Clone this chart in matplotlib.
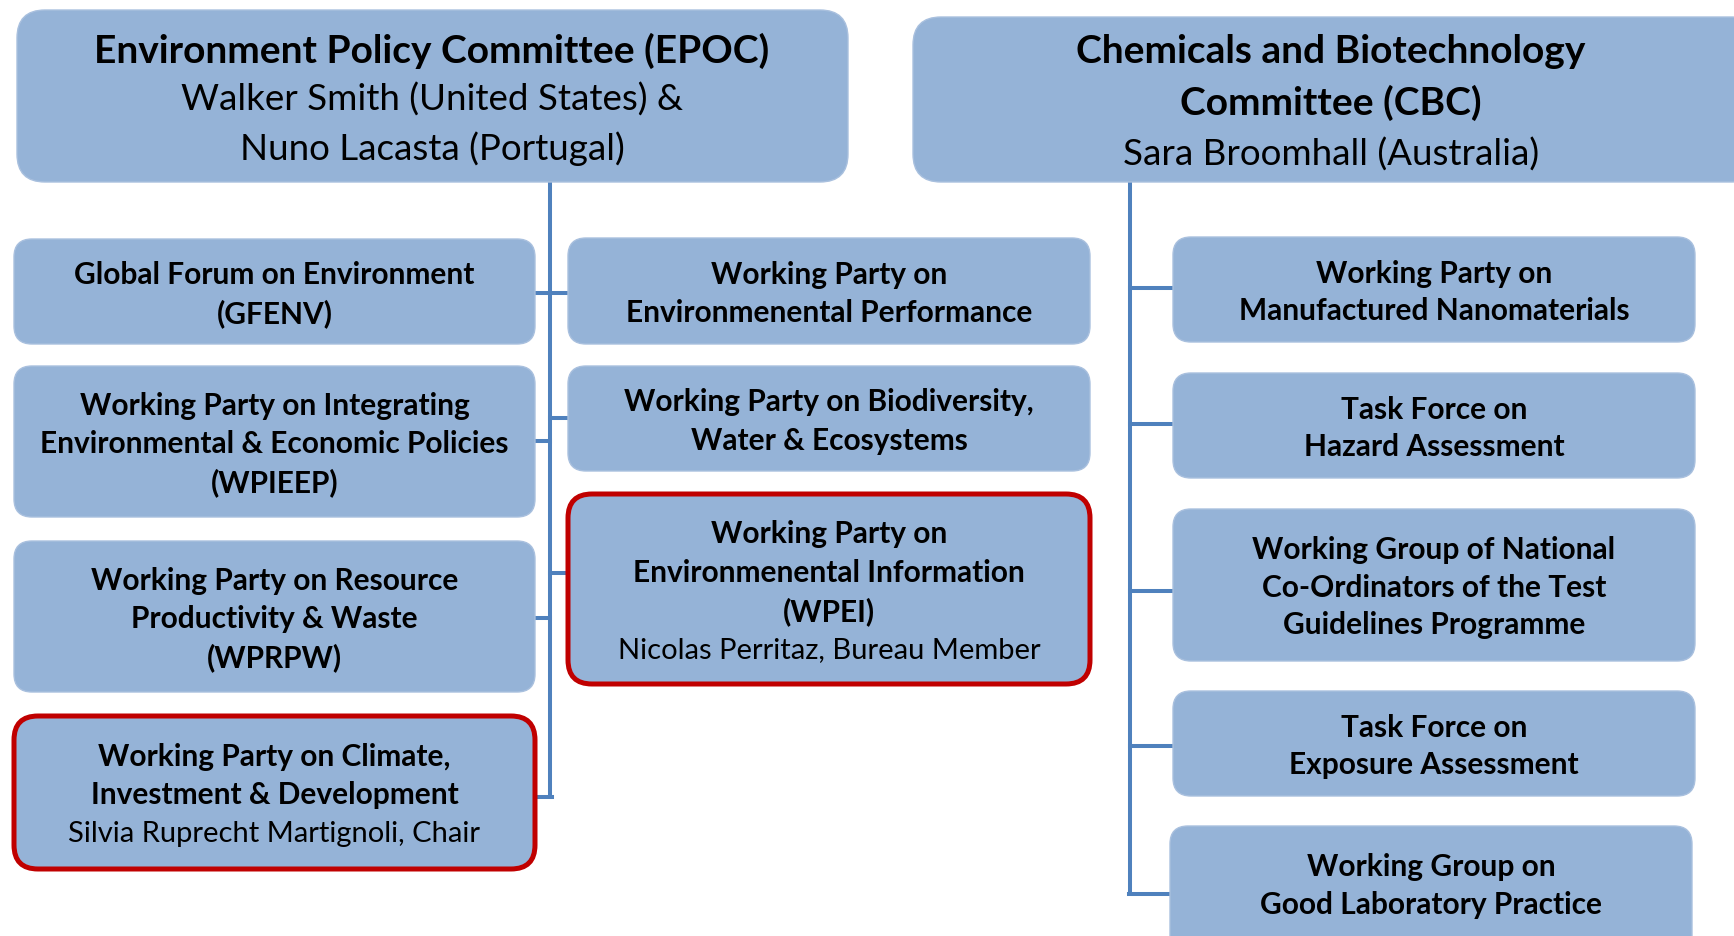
import matplotlib
matplotlib.use('Agg')
import matplotlib.pyplot as plt
from matplotlib.patches import FancyBboxPatch

plt.rcParams['font.family'] = ['Lato', 'DejaVu Sans']

# committee headers: (bold lines, regular lines)
epoc_bold = ["Environment Policy Committee (EPOC)"]
epoc_regular = ["Walker Smith (United States) &", "Nuno Lacasta (Portugal)"]
cbc_bold = ["Chemicals and Biotechnology", "Committee (CBC)"]
cbc_regular = ["Sara Broomhall (Australia)"]

# EPOC subsidiary bodies, left column
left_bold = [
    ["Global Forum on Environment", "(GFENV)"],
    ["Working Party on Integrating", "Environmental & Economic Policies", "(WPIEEP)"],
    ["Working Party on Resource", "Productivity & Waste", "(WPRPW)"],
    ["Working Party on Climate,", "Investment & Development"],
]
left_regular = [[], [], [], ["Silvia Ruprecht Martignoli, Chair"]]
left_highlight = [False, False, False, True]

# EPOC subsidiary bodies, middle column
mid_bold = [
    ["Working Party on", "Environmenental Performance"],
    ["Working Party on Biodiversity,", "Water & Ecosystems"],
    ["Working Party on", "Environmenental Information", "(WPEI)"],
]
mid_regular = [[], [], ["Nicolas Perritaz, Bureau Member"]]
mid_highlight = [False, False, True]

# CBC subsidiary bodies
right_bold = [
    ["Working Party on", "Manufactured Nanomaterials"],
    ["Task Force on", "Hazard Assessment"],
    ["Working Group of National", "Co-Ordinators of the Test", "Guidelines Programme"],
    ["Task Force on", "Exposure Assessment"],
    ["Working Group on", "Good Laboratory Practice"],
]
right_regular = [[], [], [], [], []]

# layout (pixels, y downwards)
left_x = (14, 535)
left_y = [(240, 345), (367, 518), (542, 693), (717, 870)]
mid_x = (568, 1090)
mid_y = [(239, 345), (367, 472), (495, 685)]
right_x = (1173, 1695)
right_y = [(238, 343), (374, 479), (510, 662), (692, 797), (827, 960)]

FILL = '#95B3D7'
LINE = '#4F81BD'
RED = '#C00000'

fig = plt.figure(figsize=(17.34, 9.37), dpi=100)
ax = fig.add_axes([0, 0, 1, 1])
ax.set_xlim(0, 1734)
ax.set_ylim(937, 0)
ax.axis('off')


def box(x0, y0, x1, y1, radius, highlight=False):
    p = FancyBboxPatch((x0, y0), x1 - x0, y1 - y0,
                       boxstyle='round,pad=0,rounding_size=%d' % radius,
                       facecolor=FILL,
                       edgecolor=RED if highlight else '#A9C0DE',
                       linewidth=3.6 if highlight else 1.0, zorder=2)
    ax.add_patch(p)


def lines(cx, cy, bold, regular, size_b, size_r, spacing):
    items = [(t, 'bold', size_b) for t in bold] + [(t, 'normal', size_r) for t in regular]
    n = len(items)
    for i, (t, w, s) in enumerate(items):
        y = cy + (i - (n - 1) / 2) * spacing
        ax.text(cx, y, t, ha='center', va='center', fontsize=s,
                fontweight=w, color='black', zorder=3)


# connectors
lw = 2.9
ax.plot([550, 550], [182, 798], color=LINE, lw=lw, zorder=1, solid_capstyle='butt')
ax.plot([538, 551.5], [798, 798], color=LINE, lw=lw, zorder=1)
ax.plot([535, 568], [294, 294], color=LINE, lw=lw, zorder=1)
ax.plot([550, 568], [419, 419], color=LINE, lw=lw, zorder=1)
ax.plot([535, 550], [442, 442], color=LINE, lw=lw, zorder=1)
ax.plot([550, 568], [574, 574], color=LINE, lw=lw, zorder=1)
ax.plot([535, 550], [619, 619], color=LINE, lw=lw, zorder=1)

ax.plot([1130, 1130], [182, 895], color=LINE, lw=lw, zorder=1, solid_capstyle='butt')
for y in [289, 425, 592, 747]:
    ax.plot([1130, 1173], [y, y], color=LINE, lw=lw, zorder=1)
ax.plot([1128.5, 1170], [895, 895], color=LINE, lw=lw, zorder=1)

# committee boxes
box(17, 11, 848, 183, 28)
lines(432, 100, epoc_bold, epoc_regular, 28, 26.5, 49)
box(913, 18, 1760, 183, 28)
lines(1331, 103, cbc_bold, cbc_regular, 28, 26.5, 51.5)

for (y0, y1), b, r, h in zip(left_y, left_bold, left_regular, left_highlight):
    box(left_x[0], y0, left_x[1], y1, 24 if h else 18, h)
    lines((left_x[0] + left_x[1]) / 2, (y0 + y1) / 2 + 2, b, r, 21.5, 21, 38.5)

for (y0, y1), b, r, h in zip(mid_y, mid_bold, mid_regular, mid_highlight):
    box(mid_x[0], y0, mid_x[1], y1, 24 if h else 18, h)
    lines((mid_x[0] + mid_x[1]) / 2, (y0 + y1) / 2 + 2, b, r, 21.5, 21, 38.5)

for i, ((y0, y1), b, r) in enumerate(zip(right_y, right_bold, right_regular)):
    dx = -3 if i == len(right_y) - 1 else 0
    box(right_x[0] + dx, y0, right_x[1] + dx, y1, 18)
    cy = (y0 + y1) / 2 + 2 if i < len(right_y) - 1 else 886
    lines((right_x[0] + right_x[1]) / 2 + dx, cy, b, r, 21.5, 21, 37.5)

fig.savefig('out.png', dpi=100)
